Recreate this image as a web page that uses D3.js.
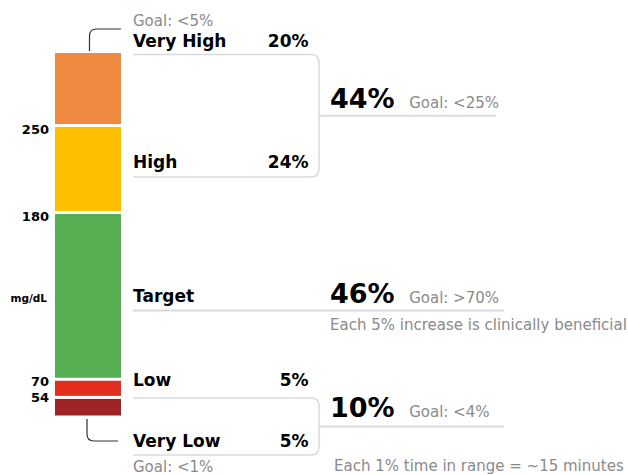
<!DOCTYPE html>
<html>
<head>
<meta charset="utf-8">
<script src="https://cdn.jsdelivr.net/npm/d3@7"></script>
<style>
  html, body { margin: 0; padding: 0; background: #fff; }
  svg { display: block; font-family: "DejaVu Sans", sans-serif; }
</style>
</head>
<body>
<svg id="chart" width="628" height="475"></svg>
<script>
// ---- data ----
const categories = ["Very Low", "Low", "Target", "High", "Very High"];
const values = [5, 5, 46, 24, 20];
const colors = ["#9e2327", "#e22d1f", "#55ae52", "#fdc000", "#f08a41"];
const thresholdLabels = ["54", "70", "180", "250"];
const unitLabel = "mg/dL";
const categoryGoals = { "Very High": "Goal: <5%", "Very Low": "Goal: <1%" };
const summaryValues = ["44%", "46%", "10%"];
const summaryGoals = ["Goal: <25%", "Goal: >70%", "Goal: <4%"];
const notes = ["Each 5% increase is clinically beneficial", "Each 1% time in range = ~15 minutes"];

// ---- layout ----
const svg = d3.select("#chart");
const y = d3.scaleLinear().domain([0, 100]).range([415.5, 53]);
const barX = 55, barW = 66, gap = 3;
const gray = "#8a8a8a", light = "#d7dbdf", dark = "#000";

let cum = 0;
const segs = values.map((v, i) => {
  const s = { name: categories[i], v, lo: cum, hi: cum + v, color: colors[i], i };
  cum += v;
  return s;
});

svg.append("g").selectAll("rect").data(segs).join("rect")
  .attr("x", barX).attr("width", barW)
  .attr("y", d => y(d.hi) + (d.i === segs.length - 1 ? 0 : gap / 2))
  .attr("height", d => (y(d.lo) - (d.i === 0 ? 0 : gap / 2)) - (y(d.hi) + (d.i === segs.length - 1 ? 0 : gap / 2)))
  .attr("fill", d => d.color);

// threshold labels at boundaries (nudged so close labels don't collide)
const boundaries = segs.slice(0, 4).map(d => d.hi);
const labelNudge = [4.3, 6.5, 8, 8.5];
svg.append("g").selectAll("text").data(boundaries).join("text")
  .attr("x", 49).attr("y", (d, i) => y(d) + labelNudge[i])
  .attr("text-anchor", "end").attr("font-size", 13).attr("font-weight", "bold")
  .attr("fill", dark).text((d, i) => thresholdLabels[i]);

svg.append("text").attr("x", 47).attr("y", 302).attr("text-anchor", "end")
  .attr("font-size", 10.5).attr("font-weight", "bold").attr("fill", dark).text(unitLabel);

// connectors
svg.append("path").attr("d", "M89.5,51 V36 Q89.5,29 96.5,29 H121")
  .attr("fill", "none").attr("stroke", "#333").attr("stroke-width", 1.2);
svg.append("path").attr("d", "M87,419 V434 Q87,441 94,441 H118")
  .attr("fill", "none").attr("stroke", "#333").attr("stroke-width", 1.2);

// bracket boxes
function bracket(top, bot, right, r) {
  return `M133,${top} H${right - r} Q${right},${top} ${right},${top + r} V${bot - r} Q${right},${bot} ${right - r},${bot} H133`;
}
svg.append("path").attr("d", bracket(54.5, 177, 319, 8)).attr("fill", "none").attr("stroke", light).attr("stroke-width", 1.5);
svg.append("path").attr("d", bracket(398, 455, 319, 8)).attr("fill", "none").attr("stroke", light).attr("stroke-width", 1.5);
svg.append("line").attr("x1", 319).attr("x2", 496).attr("y1", 115.75).attr("y2", 115.75).attr("stroke", light).attr("stroke-width", 2);
svg.append("line").attr("x1", 133).attr("x2", 504).attr("y1", 310.5).attr("y2", 310.5).attr("stroke", light).attr("stroke-width", 2);
svg.append("line").attr("x1", 319).attr("x2", 504).attr("y1", 426.5).attr("y2", 426.5).attr("stroke", light).attr("stroke-width", 2);

// category labels
const labelY = { "Very High": 46.5, "High": 168, "Target": 301.5, "Low": 385.5, "Very Low": 447 };
const showPct = { "Very High": true, "High": true, "Target": false, "Low": true, "Very Low": true };
segs.forEach(d => {
  svg.append("text").attr("x", 133).attr("y", labelY[d.name])
    .attr("font-size", 17).attr("font-weight", "bold").attr("fill", dark).text(d.name);
  if (showPct[d.name]) {
    svg.append("text").attr("x", 308.5).attr("y", labelY[d.name]).attr("text-anchor", "end")
      .attr("font-size", 17).attr("font-weight", "bold").attr("fill", dark).text(d.v + "%");
  }
});
svg.append("text").attr("x", 133).attr("y", 25.5).attr("font-size", 15).attr("fill", gray).text(categoryGoals["Very High"]);
svg.append("text").attr("x", 133).attr("y", 471.5).attr("font-size", 15).attr("fill", gray).text(categoryGoals["Very Low"]);

// summary numbers
const sumY = [107.5, 302.5, 417];
summaryValues.forEach((s, i) => {
  const t = svg.append("text").attr("x", 330).attr("y", sumY[i])
    .attr("font-size", 27).attr("font-weight", "bold").attr("fill", dark).text(s);
  const w = t.node().getComputedTextLength();
  svg.append("text").attr("x", 330 + w + 14.5).attr("y", sumY[i])
    .attr("font-size", 15).attr("fill", gray).text(summaryGoals[i]);
});
svg.append("text").attr("x", 330).attr("y", 330).attr("font-size", 15).attr("fill", gray).text(notes[0]);
svg.append("text").attr("x", 334).attr("y", 471).attr("font-size", 15).attr("fill", gray).text(notes[1]);
</script>
</body>
</html>
